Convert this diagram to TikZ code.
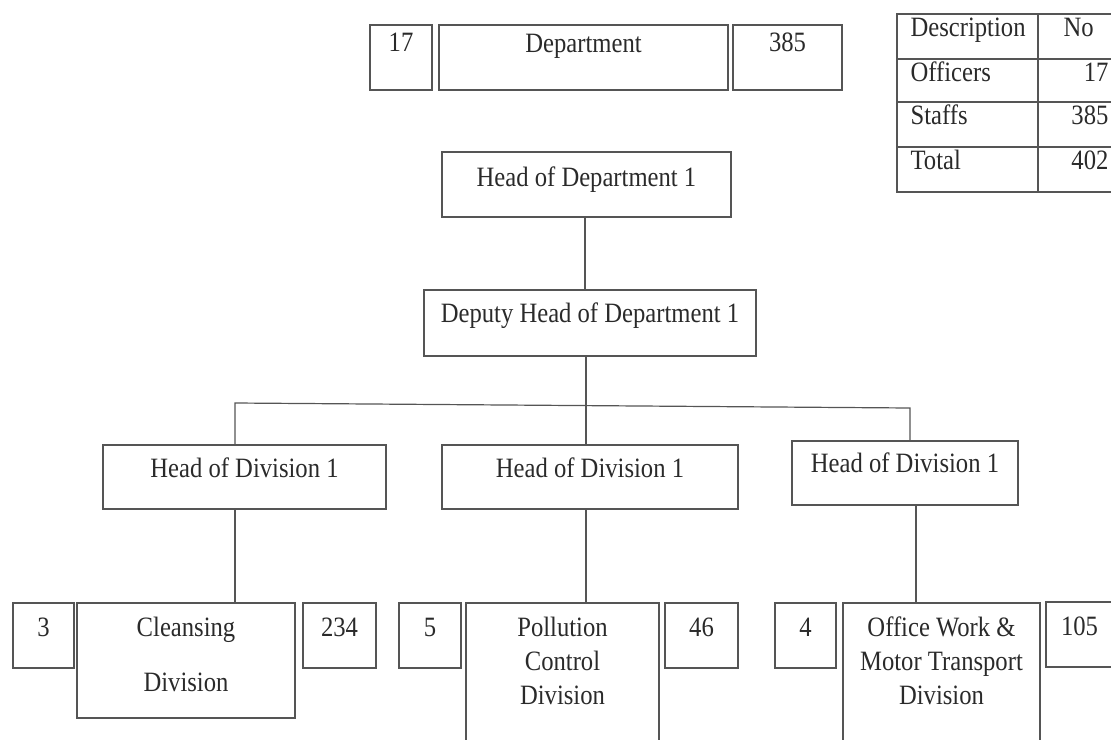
\documentclass[tikz,border=0pt]{standalone}
\usepackage{fontspec}
\setmainfont{Liberation Serif}[FakeStretch=0.88]
\usetikzlibrary{calc}
\definecolor{linec}{HTML}{555555}
\definecolor{txtc}{HTML}{2A2A2A}
\tikzset{
  box/.style={draw=linec, line width=1.2pt, inner sep=0pt, rectangle},
  lbl/.style={anchor=base, inner sep=0pt, text=txtc, font=\fontsize{28}{34}\selectfont},
  lblw/.style={lbl, anchor=base west},
  lble/.style={lbl, anchor=base east},
  conn/.style={draw=linec, line width=1.2pt},
}
\begin{document}
\begin{tikzpicture}[x=1pt,y=-1pt]
\useasboundingbox (0,0) rectangle (1111,739);
% top row
\node[box, minimum width=62pt, minimum height=65pt, label={[lbl, yshift=-27pt]north:17}] (n17) at (401,57.5) {};
\node[box, minimum width=289pt, minimum height=65pt, label={[lbl, yshift=-28pt]north:Department}] (dept) at (583.5,57.5) {};
\node[box, minimum width=109pt, minimum height=65pt, label={[lbl, yshift=-27pt]north:385}] (n385) at (787.5,57.5) {};
% table
\node[box, minimum width=141pt, minimum height=45pt, label={[lblw, xshift=14pt, yshift=-23pt]north west:Description}] (t11) at (967.5,36.5) {};
\node[box, minimum width=78pt, minimum height=45pt, label={[lblw, xshift=26pt, yshift=-23pt]north west:No}] (t12) at (1077,36.5) {};
\node[box, minimum width=141pt, minimum height=43pt, label={[lblw, xshift=14pt, yshift=-23pt]north west:Officers}] (t21) at (967.5,80.5) {};
\node[box, minimum width=78pt, minimum height=43pt, label={[lble, xshift=-8pt, yshift=-23pt]north east:17}] (t22) at (1077,80.5) {};
\node[box, minimum width=141pt, minimum height=45pt, label={[lblw, xshift=14pt, yshift=-23pt]north west:Staffs}] (t31) at (967.5,124.5) {};
\node[box, minimum width=78pt, minimum height=45pt, label={[lble, xshift=-8pt, yshift=-23pt]north east:385}] (t32) at (1077,124.5) {};
\node[box, minimum width=141pt, minimum height=45pt, label={[lblw, xshift=14pt, yshift=-23pt]north west:Total}] (t41) at (967.5,169.5) {};
\node[box, minimum width=78pt, minimum height=45pt, label={[lble, xshift=-8pt, yshift=-23pt]north east:402}] (t42) at (1077,169.5) {};
% hierarchy
\node[box, minimum width=289pt, minimum height=65pt, label={[lbl, yshift=-35pt]north:Head of Department 1}] (hod) at (586.5,184.5) {};
\node[box, minimum width=332pt, minimum height=66pt, label={[lbl, yshift=-33pt]north:Deputy Head of Department 1}] (dep) at (590,323) {};
\node[box, minimum width=283pt, minimum height=64pt, label={[lbl, yshift=-33pt]north:Head of Division 1}] (div1) at (244.5,477) {};
\node[box, minimum width=296pt, minimum height=64pt, label={[lbl, yshift=-33pt]north:Head of Division 1}] (div2) at (590,477) {};
\node[box, minimum width=226pt, minimum height=64pt, label={[lbl, yshift=-32pt]north:Head of Division 1}] (div3) at (905,473) {};
% bottom row
\node[box, minimum width=61pt, minimum height=65pt, label={[lbl, yshift=-34pt]north:3}] (c3) at (43.5,635.5) {};
\node[box, minimum width=218pt, minimum height=115pt, label={[lbl, yshift=-34pt]north:{\begin{tabular}[t]{@{}c@{}}Cleansing\\[21pt]Division\end{tabular}}}] (cle) at (186,660.5) {};
\node[box, minimum width=73pt, minimum height=65pt, label={[lbl, yshift=-34pt]north:234}] (c234) at (339.5,635.5) {};
\node[box, minimum width=62pt, minimum height=65pt, label={[lbl, yshift=-34pt]north:5}] (c5) at (430,635.5) {};
\node[box, minimum width=193pt, minimum height=157pt, label={[lbl, yshift=-34pt]north:{\begin{tabular}[t]{@{}c@{}}Pollution\\Control\\Division\end{tabular}}}] (pol) at (562.5,681.5) {};
\node[box, minimum width=73pt, minimum height=65pt, label={[lbl, yshift=-34pt]north:46}] (c46) at (701.5,635.5) {};
\node[box, minimum width=61pt, minimum height=65pt, label={[lbl, yshift=-34pt]north:4}] (c4) at (805.5,635.5) {};
\node[box, minimum width=197pt, minimum height=157pt, label={[lbl, yshift=-34pt]north:{\begin{tabular}[t]{@{}c@{}}Office Work \&\\Motor Transport\\Division\end{tabular}}}] (off) at (941.5,681.5) {};
\node[box, minimum width=67pt, minimum height=65pt, label={[lbl, yshift=-34pt]north:105}] (c105) at (1079.5,634.5) {};
% connector guides
\coordinate (t1) at (585,0);
\coordinate (jl) at (235,403);
\coordinate (jr) at (910,408);
\coordinate (jc) at (586,405);
\coordinate (b1) at (235,0);
\coordinate (b2) at (586,0);
\coordinate (b3) at (916,0);
% connectors
\draw[conn] (t1 |- hod.south) -- (t1 |- dep.north);
\draw[conn] (jc |- dep.south) -- (jc |- div2.north);
\draw[conn] (jl |- div1.north) -- (jl) -- (jr) -- (jr |- div3.north);
\draw[conn] (b1 |- div1.south) -- (b1 |- cle.north);
\draw[conn] (b2 |- div2.south) -- (b2 |- pol.north);
\draw[conn] (b3 |- div3.south) -- (b3 |- off.north);
\end{tikzpicture}
\end{document}
